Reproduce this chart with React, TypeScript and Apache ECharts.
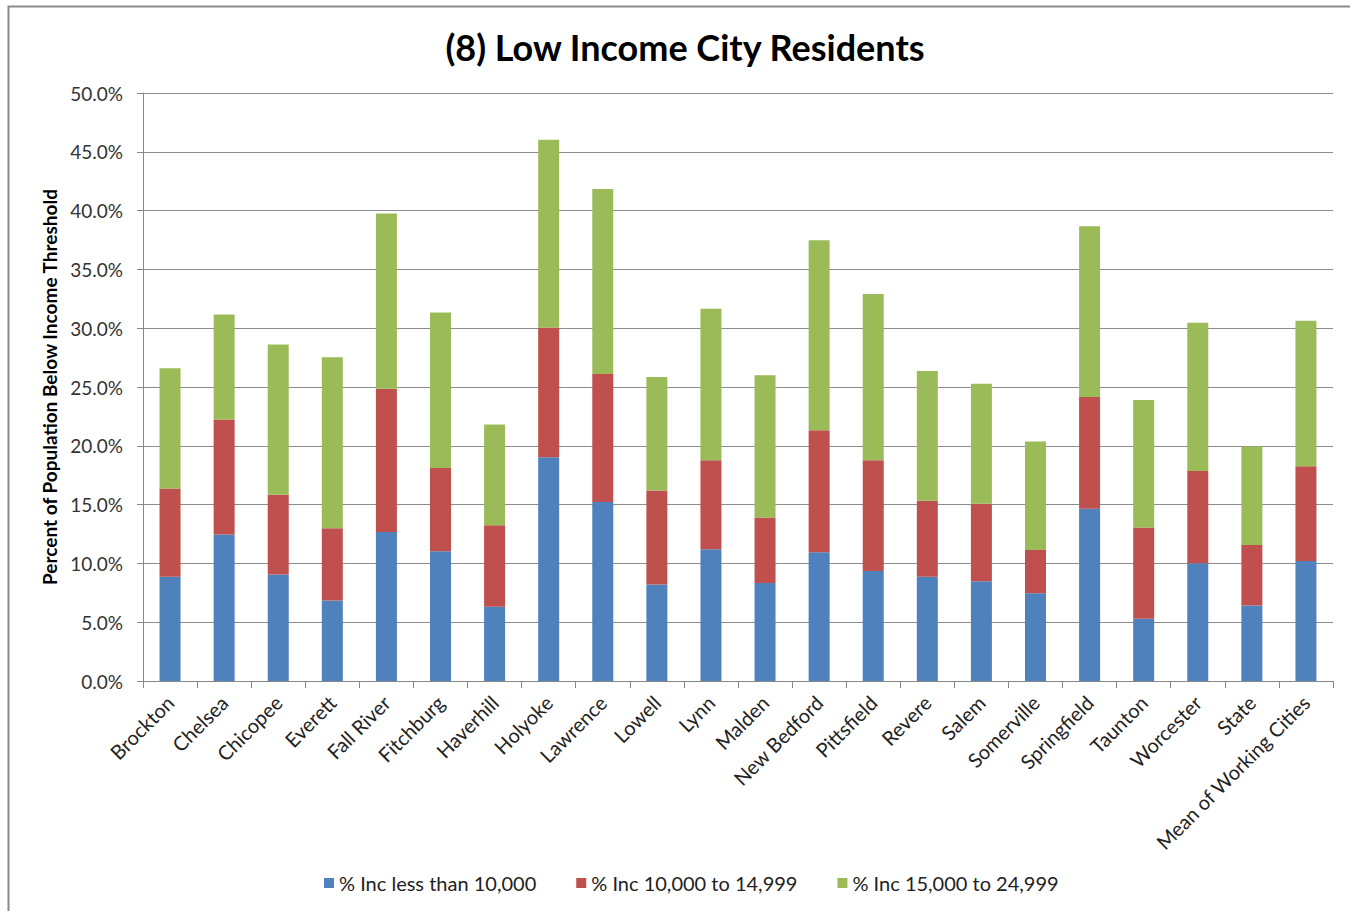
import React, { useEffect, useRef } from "react";
import * as echarts from "echarts";

const categories = [
  "Brockton", "Chelsea", "Chicopee", "Everett", "Fall River", "Fitchburg",
  "Haverhill", "Holyoke", "Lawrence", "Lowell", "Lynn", "Malden",
  "New Bedford", "Pittsfield", "Revere", "Salem", "Somerville", "Springfield",
  "Taunton", "Worcester", "State", "Mean of Working Cities",
];

// cumulative tops (%)
const blueTop = [8.86, 12.46, 9.05, 6.84, 12.66, 11.04, 6.31, 19.03, 15.23, 8.2, 11.2, 8.33, 10.94, 9.35, 8.86, 8.49, 7.47, 14.64, 5.29, 10.01, 6.41, 10.21];
const redTop = [16.36, 22.24, 15.83, 12.99, 24.85, 18.11, 13.25, 30.07, 26.11, 16.19, 18.77, 13.91, 21.32, 18.77, 15.33, 15.07, 11.14, 24.16, 13.05, 17.85, 11.57, 18.27];
const greenTop = [26.6, 31.16, 28.62, 27.53, 39.75, 31.33, 21.81, 46.03, 41.84, 25.84, 31.66, 26.0, 37.47, 32.91, 26.37, 25.28, 20.36, 38.66, 23.89, 30.47, 19.93, 30.63];

const lessThan10k = blueTop.map((v) => v / 100);
const from10kTo15k = redTop.map((v, i) => (v - blueTop[i]) / 100);
const from15kTo25k = greenTop.map((v, i) => (v - redTop[i]) / 100);

const seriesNames = ["% Inc less than 10,000", "% Inc 10,000 to 14,999", "% Inc 15,000 to 24,999"];
const colors = ["#4F81BD", "#C0504D", "#9BBB59"];

const FONT = "Lato, 'Open Sans', sans-serif";

export default function App() {
  const ref = useRef<HTMLDivElement>(null);
  useEffect(() => {
    if (!ref.current) return;
    const chart = echarts.init(ref.current, null, { renderer: "svg" });
    const dataSets = [lessThan10k, from10kTo15k, from15kTo25k];
    chart.setOption({
      animation: false,
      backgroundColor: "#ffffff",
      title: {
        text: "(8) Low Income City Residents",
        left: 680,
        textAlign: "center",
        top: 24,
        textStyle: { fontFamily: FONT, fontSize: 36, fontWeight: "bold", color: "#000" },
      },
      graphic: [
        {
          type: "polyline",
          shape: { points: [[8.5, 1000], [8.5, 6.5], [1400, 6.5]] },
          style: { stroke: "#8a8a8a", lineWidth: 2, fill: "none" },
          silent: true,
        },
      ],
      legend: {
        bottom: 13,
        left: 319,
        itemWidth: 10,
        itemHeight: 10,
        itemGap: 40,
        icon: "rect",
        textStyle: { fontFamily: FONT, fontSize: 20, color: "#222" },
        data: seriesNames,
      },
      grid: { left: 143, right: 17, top: 93, bottom: 230, containLabel: false },
      xAxis: {
        type: "category",
        data: categories,
        axisLine: { lineStyle: { color: "#888", width: 1 } },
        axisTick: { show: true, alignWithLabel: false, length: 7, lineStyle: { color: "#888" } },
        axisLabel: {
          rotate: 45,
          interval: 0,
          margin: 18,
          fontFamily: FONT,
          fontSize: 20,
          color: "#222",
        },
      },
      yAxis: {
        type: "value",
        min: 0,
        max: 0.5,
        interval: 0.05,
        name: "Percent of Population Below Income Threshold",
        nameLocation: "middle",
        nameGap: 84,
        nameTextStyle: { fontFamily: FONT, fontSize: 19, fontWeight: "bold", color: "#000" },
        axisLine: { show: true, lineStyle: { color: "#888" } },
        axisTick: { show: true, length: 6, lineStyle: { color: "#888" } },
        splitLine: { lineStyle: { color: "#8c8c8c", width: 1 } },
        axisLabel: {
          margin: 20,
          fontFamily: FONT,
          fontSize: 19,
          color: "#333",
          formatter: (v: number) => (v * 100).toFixed(1) + "%",
        },
      },
      series: seriesNames.map((name, i) => ({
        name,
        type: "bar",
        stack: "total",
        barWidth: 21,
        data: dataSets[i],
        itemStyle: { color: colors[i] },
      })),
    });
    return () => chart.dispose();
  }, []);
  return (
    <div
      ref={ref}
      style={{ position: "fixed", left: 0, top: 0, width: 1350, height: 911 }}
    />
  );
}
